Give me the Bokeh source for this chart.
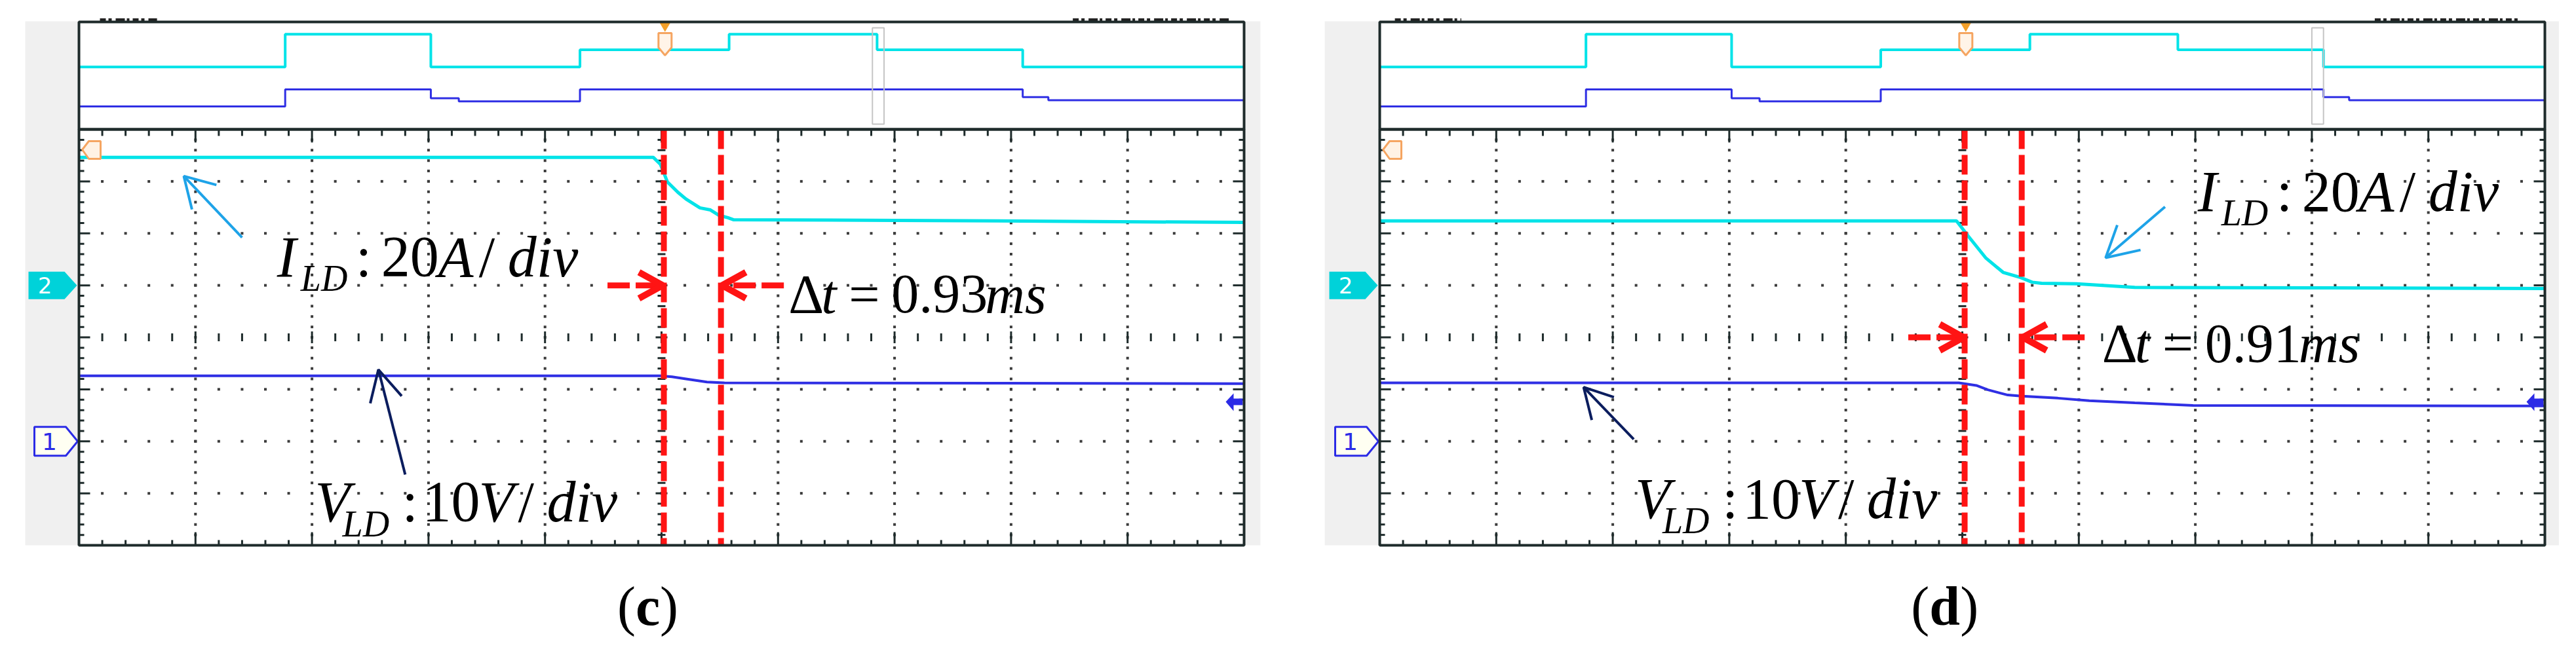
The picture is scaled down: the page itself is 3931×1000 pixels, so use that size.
import numpy as np
from bokeh.plotting import figure
from bokeh.models import Range1d
from bokeh.layouts import row
from bokeh.embed import file_html
from bokeh.resources import INLINE
from bokeh.core.properties import value

# ---------------- values (scope divisions) ----------------
# x: 10 horizontal time divisions (0..10); y: 8 vertical divisions (-4..4), overview above
OV_EDGES      = [0.0, 1.77, 3.02, 4.30, 5.58, 6.85, 8.10, 10.0]
OV_CYAN       = [5.20, 5.83, 5.20, 5.53, 5.83, 5.53, 5.20]
OV_BLUE_EDGES = [0.0, 1.77, 3.02, 3.26, 4.30, 8.10, 8.32, 10.0]
OV_BLUE       = [4.44, 4.77, 4.60, 4.54, 4.77, 4.62, 4.56]

C_ILD_X = [0.0, 4.93, 4.99, 5.05, 5.14, 5.21, 5.33, 5.42, 5.49, 5.57, 5.62, 7.00, 10.0]
C_ILD_Y = [3.46, 3.46, 3.33, 2.99, 2.79, 2.66, 2.49, 2.45, 2.35, 2.30, 2.26, 2.25, 2.21]
C_VLD_X = [0.0, 4.99, 5.09, 5.21, 5.39, 5.54, 10.0]
C_VLD_Y = [-0.74, -0.74, -0.76, -0.80, -0.86, -0.875, -0.89]

D_ILD_X = [0.0, 4.95, 5.05, 5.20, 5.35, 5.50, 5.60, 5.68, 5.98, 6.48, 10.0]
D_ILD_Y = [2.24, 2.24, 1.95, 1.53, 1.25, 1.15, 1.06, 1.04, 1.03, 0.96, 0.94]
D_VLD_X = [0.0, 4.97, 5.12, 5.22, 5.39, 5.51, 5.82, 6.09, 6.48, 6.98, 10.0]
D_VLD_Y = [-0.875, -0.875, -0.925, -1.01, -1.11, -1.13, -1.17, -1.22, -1.26, -1.31, -1.32]

CURSORS = [5.02, 5.51]
DT_TEXT = {"c": "0.93", "d": "0.91"}
CH2_GROUND = 1.0
CH1_GROUND = -2.0
SCALE_I = "20"
SCALE_V = "10"
TRIGGER_X = 5.03

# ---------------- layout constants ----------------
DX, DY = 177.8, 79.375      # px per division
Y0PX = 514.5                # picture y of division 0
W1, W2, H = 1957, 1958, 984
SERIF = "Liberation Serif"
CYAN = "#00e3e8"
BLUE = "#2f2fe4"
RED = "#ff1414"
FRAME = "#1e2b2b"
DOT = "#3c3c3c"
TXT_SHIFT = 0.30            # baseline correction, fraction of font size

PANELS = {
    "c": dict(fig_left=-120, width=W1, gray=(-0.461, 10.14), win=6.81,
              i_lab=(1.70, 1.215), v_lab=(2.025, -3.495), dt=(6.09, 0.51), arr_y=1.0,
              tag_x=4.62, tag_w=37,
              cyan_arrow=[(1.40, 1.92), (0.90, 3.10), (1.18, 2.93), (0.97, 2.46)],
              navy_arrow=[(2.80, -2.64), (2.57, -0.62), (2.50, -1.27), (2.77, -1.13)],
              top_marks=[(0.18, 0.67), (8.53, 9.88)]),
    "d": dict(fig_left=W1 - 2105, width=W2, gray=(-0.472, 10.12), win=8.00,
              i_lab=(7.02, 2.47), v_lab=(2.19, -3.44), dt=(6.20, -0.44), arr_y=0.0,
              tag_x=4.56, tag_w=47,
              cyan_arrow=[(6.74, 2.51), (6.23, 1.53), (6.33, 2.16), (6.53, 1.68)],
              navy_arrow=[(2.18, -1.96), (1.75, -0.96), (2.01, -1.15), (1.82, -1.59)],
              top_marks=[(0.13, 0.70), (8.54, 9.79)]),
}


def fx(dpx):
    return dpx / DX


def fy(dpx):
    return -dpx / DY


def rich(p, x, y, pieces, color="black"):
    for t, st, sz, dx, dy in pieces:
        p.text(x=[x + fx(dx)], y=[y + fy(dy - TXT_SHIFT * sz)], text=[t], text_font=value(SERIF),
               text_font_style=st, text_font_size=f"{sz}px", text_color=color,
               text_baseline="alphabetic", text_align="left")


def step_xy(edges, levels):
    xs, ys = [], []
    for i, lv in enumerate(levels):
        xs += [edges[i], edges[i + 1]]
        ys += [lv, lv]
    return xs, ys


def make_panel(tag, ild_x, ild_y, vld_x, vld_y):
    cfg = PANELS[tag]
    off = cfg["fig_left"]
    w = cfg["width"]
    p = figure(width=w, height=H,
               x_range=Range1d(off / DX, (off + w) / DX),
               y_range=Range1d((Y0PX - H) / DY, Y0PX / DY),
               x_axis_type=None, y_axis_type=None, toolbar_location=None,
               output_backend="svg", min_border=0, outline_line_color=None,
               background_fill_color="white", border_fill_color="white")
    ov_top = (Y0PX - 33) / DY

    # background
    p.quad(left=[cfg["gray"][0]], right=[cfg["gray"][1]], bottom=[-4.0], top=[(Y0PX - 32) / DY],
           fill_color="#f0f0f0", line_color=None)
    p.quad(left=[0], right=[10], bottom=[-4], top=[ov_top], fill_color="white", line_color=None)

    # dotted graticule
    minor_x = np.round(np.arange(1, 50) * 0.2, 1)
    minor_y = np.round(np.arange(-19, 20) * 0.2, 1)
    dx_, dy_ = [], []
    for yy in [-3, -2, -1, 1, 2, 3]:
        dx_ += list(minor_x); dy_ += [yy] * len(minor_x)
    for xx in [1, 2, 3, 4, 6, 7, 8, 9]:
        dx_ += [xx] * len(minor_y); dy_ += list(minor_y)
    p.scatter(dx_, dy_, marker="square", size=4, color=DOT, line_color=None)

    # centre cross ticks and border ticks
    xs, ys = [], []
    for xv in minor_x:
        major = abs(xv - round(xv)) < 1e-6
        h = fy(-9 if major else -6)
        xs.append([xv, xv]); ys.append([-h, h])
        lt = fy(-20 if major else -10)
        xs.append([xv, xv]); ys.append([4, 4 - lt])
        lb = fy(-20 if major else -8)
        xs.append([xv, xv]); ys.append([-4, -4 + lb])
    for yv in minor_y:
        major = abs(yv - round(yv)) < 1e-6
        ww = fx(9 if major else 6)
        xs.append([5 - ww, 5 + ww]); ys.append([yv, yv])
        ll = fx(17 if major else 8)
        xs.append([0, ll]); ys.append([yv, yv])
        xs.append([10 - ll, 10]); ys.append([yv, yv])
    p.multi_line(xs, ys, line_color=FRAME, line_width=3)

    # overview traces
    ox, oy = step_xy(OV_EDGES, OV_CYAN)
    p.line(ox, oy, line_color=CYAN, line_width=4)
    bx, by = step_xy(OV_BLUE_EDGES, OV_BLUE)
    p.line(bx, by, line_color=BLUE, line_width=3)
    w0 = cfg["win"]
    p.quad(left=[w0], right=[w0 + 0.1], bottom=[(Y0PX - 189) / DY], top=[(Y0PX - 42) / DY],
           fill_color=None, line_color="#c4c4c4", line_width=2)
    # trigger marker in overview
    p.scatter([TRIGGER_X], [(Y0PX - 39) / DY], marker="inverted_triangle", size=16,
              color="#f2a02a", line_color=None)
    tx = [TRIGGER_X - fx(10), TRIGGER_X + fx(10), TRIGGER_X + fx(10), TRIGGER_X, TRIGGER_X - fx(10)]
    ty = [(Y0PX - 50) / DY, (Y0PX - 50) / DY, (Y0PX - 72) / DY, (Y0PX - 84) / DY, (Y0PX - 72) / DY]
    p.patch(tx, ty, fill_color="#fff4e8", line_color="#f5a561", line_width=3)
    # cut-off text marks on top edge
    for a, b in cfg["top_marks"]:
        p.line([a, b], [ov_top + fy(-3), ov_top + fy(-3)], line_color="#222222", line_width=5,
               line_dash="9 4 5 6 14 3 4 5")

    # main traces
    p.line(ild_x, ild_y, line_color=CYAN, line_width=5)
    p.line(vld_x, vld_y, line_color=BLUE, line_width=4)

    # cursors
    for cx in CURSORS:
        p.line([cx, cx], [4, -4], line_color=RED, line_width=9, line_dash="30 9")
    ay = cfg["arr_y"]
    wy = fy(20)
    p.line([CURSORS[0] - fx(86), CURSORS[0] - 0.01], [ay, ay], line_color=RED, line_width=9,
           line_dash="34 9")
    p.line([CURSORS[0] - fx(38), CURSORS[0] - 0.01, CURSORS[0] - fx(38)], [ay - wy, ay, ay + wy],
           line_color=RED, line_width=10)
    p.line([CURSORS[1] + fx(96), CURSORS[1] + 0.01], [ay, ay], line_color=RED, line_width=9,
           line_dash="34 9")
    p.line([CURSORS[1] + fx(38), CURSORS[1] + 0.01, CURSORS[1] + fx(38)], [ay - wy, ay, ay + wy],
           line_color=RED, line_width=10)

    # pointer arrows
    for key, col in (("cyan_arrow", "#1ea3e8"), ("navy_arrow", "#0b1d5e")):
        t, tip, w1, w2 = cfg[key]
        p.line([t[0], tip[0]], [t[1], tip[1]], line_color=col, line_width=4)
        p.line([w1[0], tip[0], w2[0]], [w1[1], tip[1], w2[1]], line_color=col, line_width=4)

    # channel markers
    g2 = CH2_GROUND
    p.patch([fx(-77), fx(-22), fx(-3), fx(-22), fx(-77)],
            [g2 + fy(-21), g2 + fy(-21), g2, g2 + fy(21), g2 + fy(21)],
            fill_color="#00d2d9", line_color=None)
    p.text(x=[fx(-52)], y=[g2], text=["2"], text_font=value("DejaVu Sans"), text_font_size="34px",
           text_color="white", text_align="center", text_baseline="middle")
    g1 = CH1_GROUND
    p.patch([fx(-68), fx(-20), fx(-2), fx(-20), fx(-68)],
            [g1 + fy(-22), g1 + fy(-22), g1, g1 + fy(22), g1 + fy(22)],
            fill_color="#fffff2", line_color="#2b2be6", line_width=3)
    p.text(x=[fx(-45)], y=[g1], text=["1"], text_font=value("DejaVu Sans"), text_font_size="36px",
           text_color="#2b2be6", text_align="center", text_baseline="middle")
    # trigger level marker (top-left) and ch1 offset marker (right)
    tly = (Y0PX - 228) / DY
    p.patch([fx(5), fx(15), fx(33), fx(33), fx(15)],
            [tly, tly + fy(-13), tly + fy(-13), tly + fy(14), tly + fy(14)],
            fill_color="#fff2e4", line_color="#f5a561", line_width=3)
    my = (Y0PX - 613) / DY
    p.patch([10 - fx(28), 10 - fx(16), 10 - fx(16), 10 - fx(2), 10 - fx(2), 10 - fx(16), 10 - fx(16)],
            [my, my + fy(-13), my + fy(-5), my + fy(-5), my + fy(5), my + fy(5), my + fy(14)],
            fill_color="#2b2be6", line_color=None)

    # frames
    p.quad(left=[0, 0], right=[10, 10], bottom=[-4, 4], top=[4, ov_top],
           fill_color=None, line_color=FRAME, line_width=4)

    # annotation texts
    ix, iy = cfg["i_lab"]
    rich(p, ix, iy, [("I", "italic", 88, 0, 0), ("LD", "italic", 56, 36, 23),
                     (":", "normal", 88, 120, 0), (SCALE_I, "normal", 88, 159, 0),
                     ("A", "italic", 88, 246, 0), ("/", "normal", 88, 308, 0),
                     ("div", "italic", 88, 352, 0)])
    vx, vy = cfg["v_lab"]
    rich(p, vx, vy, [("V", "italic", 88, 0, 0), ("LD", "italic", 56, 42, 24),
                     (":", "normal", 88, 133, 0), (SCALE_V, "normal", 88, 164, 0),
                     ("V", "italic", 88, 250, 0), ("/", "normal", 88, 310, 0),
                     ("div", "italic", 88, 354, 0)])
    dtx, dty = cfg["dt"]
    rich(p, dtx, dty, [("\u0394", "normal", 84, 0, 0), ("t", "italic", 84, 50, 0),
                       ("=", "normal", 84, 92, 0), (DT_TEXT[tag], "normal", 84, 157, 0),
                       ("ms", "italic", 84, 300, 0)])
    lab_y = (Y0PX - 950) / DY
    rich(p, cfg["tag_x"], lab_y, [("(", "normal", 84, 0, 0), (tag, "bold", 84, 28, 0),
                                  (")", "normal", 84, 28 + cfg["tag_w"], 0)])
    return p


p_c = make_panel("c", C_ILD_X, C_ILD_Y, C_VLD_X, C_VLD_Y)
p_d = make_panel("d", D_ILD_X, D_ILD_Y, D_VLD_X, D_VLD_Y)
layout = row(p_c, p_d, spacing=0)

open("out.html", "w").write(file_html(layout, INLINE))
